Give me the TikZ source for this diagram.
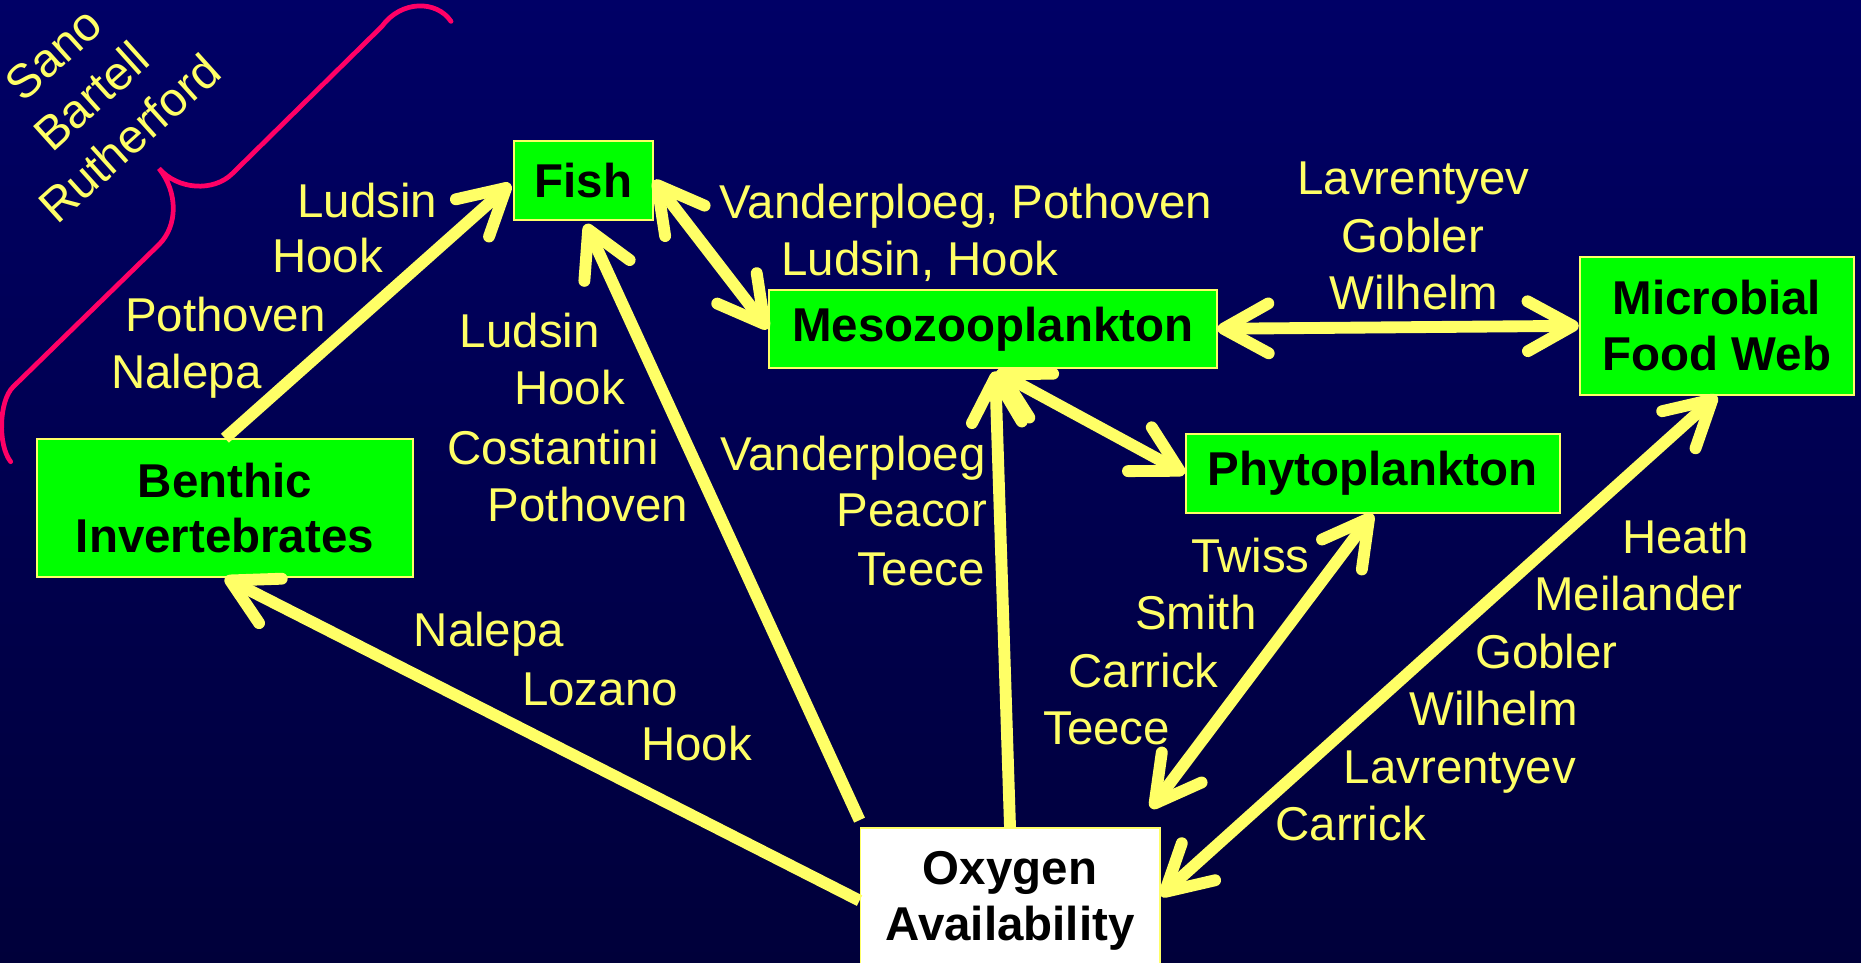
\documentclass[tikz,border=0pt]{standalone}
\usepackage{fontspec}
\setmainfont{Liberation Sans}
\usetikzlibrary{arrows.meta,calc}
\definecolor{bgtop}{RGB}{0,0,102}
\definecolor{bgbot}{RGB}{0,0,58}
\definecolor{lab}{RGB}{255,255,102}
\definecolor{boxgreen}{RGB}{0,255,0}
\definecolor{bracecol}{RGB}{255,0,102}
\tikzset{
  lbl/.style={text=lab, font=\fontsize{20}{24}\selectfont, inner sep=0pt},
  box/.style={draw=lab, line width=0.8pt, fill=boxgreen, text=black,
    font=\bfseries\fontsize{20}{23.5}\selectfont, align=center, inner sep=0pt},
  tipb/.tip={Straight Barb[length=19pt,width=21pt,round]},
  conn/.style={draw=lab, line width=5pt, -tipb},
  both/.style={draw=lab, line width=5pt, tipb-tipb},
  bracestyle/.style={draw=bracecol, line width=2pt, line cap=round}
}
\begin{document}
\begin{tikzpicture}[x=0.5pt,y=-0.5pt]
\useasboundingbox (0,0) rectangle (1568,811);
\clip (0,0) rectangle (1568,811);
\shade[top color=bgtop,bottom color=bgbot] (0,0) rectangle (1568,811);

% boxes
\node[box, minimum width=58.5pt, minimum height=33pt] (fish) at (491.5,152) {Fish};
\node[box, minimum width=188.5pt, minimum height=33pt] (meso) at (836.5,277) {Mesozooplankton};
\node[box, minimum width=115.5pt, minimum height=58pt] (micro) at (1446.5,274.5) {Microbial\\Food Web};
\node[box, minimum width=157.5pt, minimum height=33pt] (phyto) at (1156.5,399) {Phytoplankton};
\node[box, minimum width=158.5pt, minimum height=58pt] (benthic) at (189.5,428) {Benthic\\Invertebrates};
\node[box, fill=white, minimum width=126pt, minimum height=61pt, anchor=north] (oxy) at (851,697) {Oxygen\\Availability};

% brace
\draw[bracestyle] (380,18) .. controls (368,0) and (338,0) .. (322,22) -- (196,146)
  .. controls (180,162) and (150,160) .. (134,142)
  .. controls (150,162) and (150,190) .. (134,206) -- (11,326)
  .. controls (-1,338) and (-2,375) .. (9,389);

% connectors
\draw[conn] (benthic.north) -- ($(fish.west)+(-2,3)$);
\draw[conn] ($(oxy.north west)+(0,-6)$) -- ($(fish.south)+(2,3)$);
\draw[both] (fish.east) -- (meso.west);
\draw[both] (meso.east) -- (micro.west);
\draw[both] ($(meso.south)+(3,2)$) -- (phyto.west);
\draw[conn] (oxy.north) -- ($(meso.south)+(2,2)$);
\draw[conn] (oxy.west) -- (benthic.south);
\draw[both] (phyto.south) -- ($(oxy.north east)+(-8,-16)$);
\draw[both] (micro.south) -- ($(oxy.east)+(0,-4)$);

% labels
\node[lbl, rotate=42, align=center] (names) at (77,81) {Sano\\Bartell\\Rutherford};

\node[lbl, anchor=base] (a1) at (309.5,183) {Ludsin};
\node[lbl, anchor=base] (a2) at (276,230) {Hook};
\node[lbl, anchor=base] (a3) at (190,279) {Pothoven};
\node[lbl, anchor=base] (a4) at (157,327) {Nalepa};

\node[lbl, anchor=base] (b1) at (446.5,293) {Ludsin};
\node[lbl, anchor=base] (b2) at (480,341) {Hook};
\node[lbl, anchor=base] (b3) at (466,391) {Costantini};
\node[lbl, anchor=base] (b4) at (495.5,439) {Pothoven};

\node[lbl, anchor=base] (c1) at (814,184) {Vanderploeg, Pothoven};
\node[lbl, anchor=base] (c2) at (775,232) {Ludsin, Hook};

\node[lbl, anchor=base] (d1) at (1191,164) {Lavrentyev};
\node[lbl, anchor=base] (d2) at (1190.5,213) {Gobler};
\node[lbl, anchor=base] (d3) at (1191.5,261) {Wilhelm};

\node[lbl, anchor=base east] (e1) at (831,396) {Vanderploeg};
\node[lbl, anchor=base east] (e2) at (832,444) {Peacor};
\node[lbl, anchor=base east] (e3) at (830,493) {Teece};

\node[lbl, anchor=base] (f1) at (1053.5,482) {Twiss};
\node[lbl, anchor=base] (f2) at (1007.5,530) {Smith};
\node[lbl, anchor=base] (f3) at (963.5,579) {Carrick};
\node[lbl, anchor=base] (f4) at (932.5,627) {Teece};

\node[lbl, anchor=base] (g1) at (1420,466) {Heath};
\node[lbl, anchor=base] (g2) at (1380.5,514) {Meilander};
\node[lbl, anchor=base] (g3) at (1303,563) {Gobler};
\node[lbl, anchor=base] (g4) at (1258.5,611) {Wilhelm};
\node[lbl, anchor=base] (g5) at (1230,660) {Lavrentyev};
\node[lbl, anchor=base] (g6) at (1138,708) {Carrick};

\node[lbl, anchor=base] (h1) at (412,545) {Nalepa};
\node[lbl, anchor=base] (h2) at (505.5,594) {Lozano};
\node[lbl, anchor=base] (h3) at (587,641) {Hook};
\end{tikzpicture}
\end{document}
